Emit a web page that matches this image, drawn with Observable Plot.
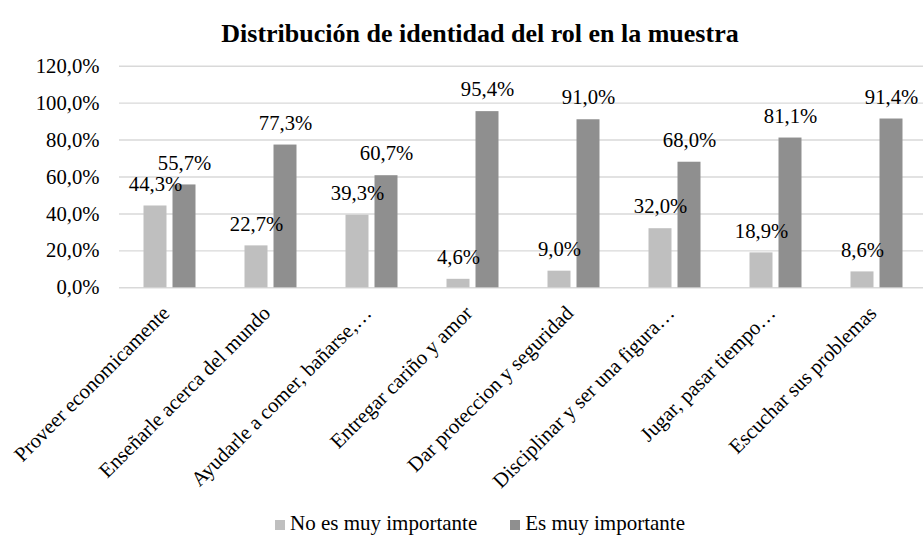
<!DOCTYPE html>
<html><head><meta charset="utf-8">
<script src="https://cdn.jsdelivr.net/npm/d3@7"></script>
<script src="https://cdn.jsdelivr.net/npm/@observablehq/plot@0.6"></script>
<style>
html,body{margin:0;padding:0;background:#fff;overflow:hidden;}
#wrap{position:relative;width:960px;height:537px;font-family:"Liberation Serif","Times New Roman",serif;color:#000;}
#title{height:50px;box-sizing:border-box;padding-top:21px;line-height:26px;font-size:26px;font-weight:bold;text-align:center;}
#chart svg{display:block;}
#legend{height:47px;box-sizing:border-box;padding-top:23px;line-height:21px;font-size:21px;text-align:center;white-space:nowrap;}
.item{display:inline-block;}
.item + .item{margin-left:33px;}
.sw{display:inline-block;width:10px;height:10px;margin-right:5px;vertical-align:0px;}
</style></head><body>
<div id="wrap">
  <div id="title"></div>
  <div id="chart"></div>
  <div id="legend"></div>
</div>
<script>
const titleText = "Distribución de identidad del rol en la muestra";
const categories = [
  "Proveer economicamente",
  "Enseñarle acerca del mundo",
  "Ayudarle a comer, bañarse,…",
  "Entregar cariño y amor",
  "Dar proteccion y seguridad",
  "Disciplinar y ser una figura…",
  "Jugar, pasar tiempo…",
  "Escuchar sus problemas"
];
const series = ["No es muy importante", "Es muy importante"];
const noImportante = [44.3, 22.7, 39.3, 4.6, 9.0, 32.0, 18.9, 8.6];
const esImportante = [55.7, 77.3, 60.7, 95.4, 91.0, 68.0, 81.1, 91.4];
const yTicks = [0, 20, 40, 60, 80, 100, 120];
const colors = ["#bfbfbf", "#8f8f8f"];

const data = categories.flatMap((c, i) => [
  {cat: c, serie: series[0], v: noImportante[i]},
  {cat: c, serie: series[1], v: esImportante[i]}
]);
const fmt = v => v.toFixed(1).replace(".", ",") + "%";

document.getElementById("title").textContent = titleText;

const fs = 20.7;
const plot = Plot.plot({
  width: 960, height: 440,
  marginLeft: 118.5, marginRight: 33.5, marginTop: 15.7, marginBottom: 202.7,
  style: {fontFamily: "'Liberation Serif','Times New Roman',serif", fontSize: fs + "px", color: "#000", background: "#fff", overflow: "visible"},
  fx: {domain: categories, padding: 0, axis: null},
  x: {domain: series, paddingInner: 0.224, paddingOuter: 0.853, axis: null},
  y: {domain: [0, 120], axis: null},
  color: {domain: series, range: colors},
  marks: [
    Plot.gridY(yTicks, {stroke: "#d9d9d9", strokeOpacity: 1, strokeWidth: 1.4}),
    Plot.axisY(yTicks, {tickSize: 0, tickPadding: 20, tickFormat: fmt, label: null, fontSize: fs}),
    Plot.barY(data, {fx: "cat", x: "serie", y: "v", fill: "serie"}),
    Plot.text(data, {fx: "cat", x: "serie", y: "v", text: d => fmt(d.v), dy: -22, lineAnchor: "middle", fontSize: fs, fill: "#000"}),
    Plot.axisFx({anchor: "bottom", tickRotate: -45, tickSize: 0, tickPadding: 22, dx: -4, label: null, fontSize: fs})
  ]
});
document.getElementById("chart").appendChild(plot);

const lg = document.getElementById("legend");
series.forEach((s, i) => {
  const it = document.createElement("span");
  it.className = "item";
  const sw = document.createElement("span");
  sw.className = "sw";
  sw.style.background = colors[i];
  it.appendChild(sw);
  it.appendChild(document.createTextNode(s));
  lg.appendChild(it);
});
</script>
</body></html>
